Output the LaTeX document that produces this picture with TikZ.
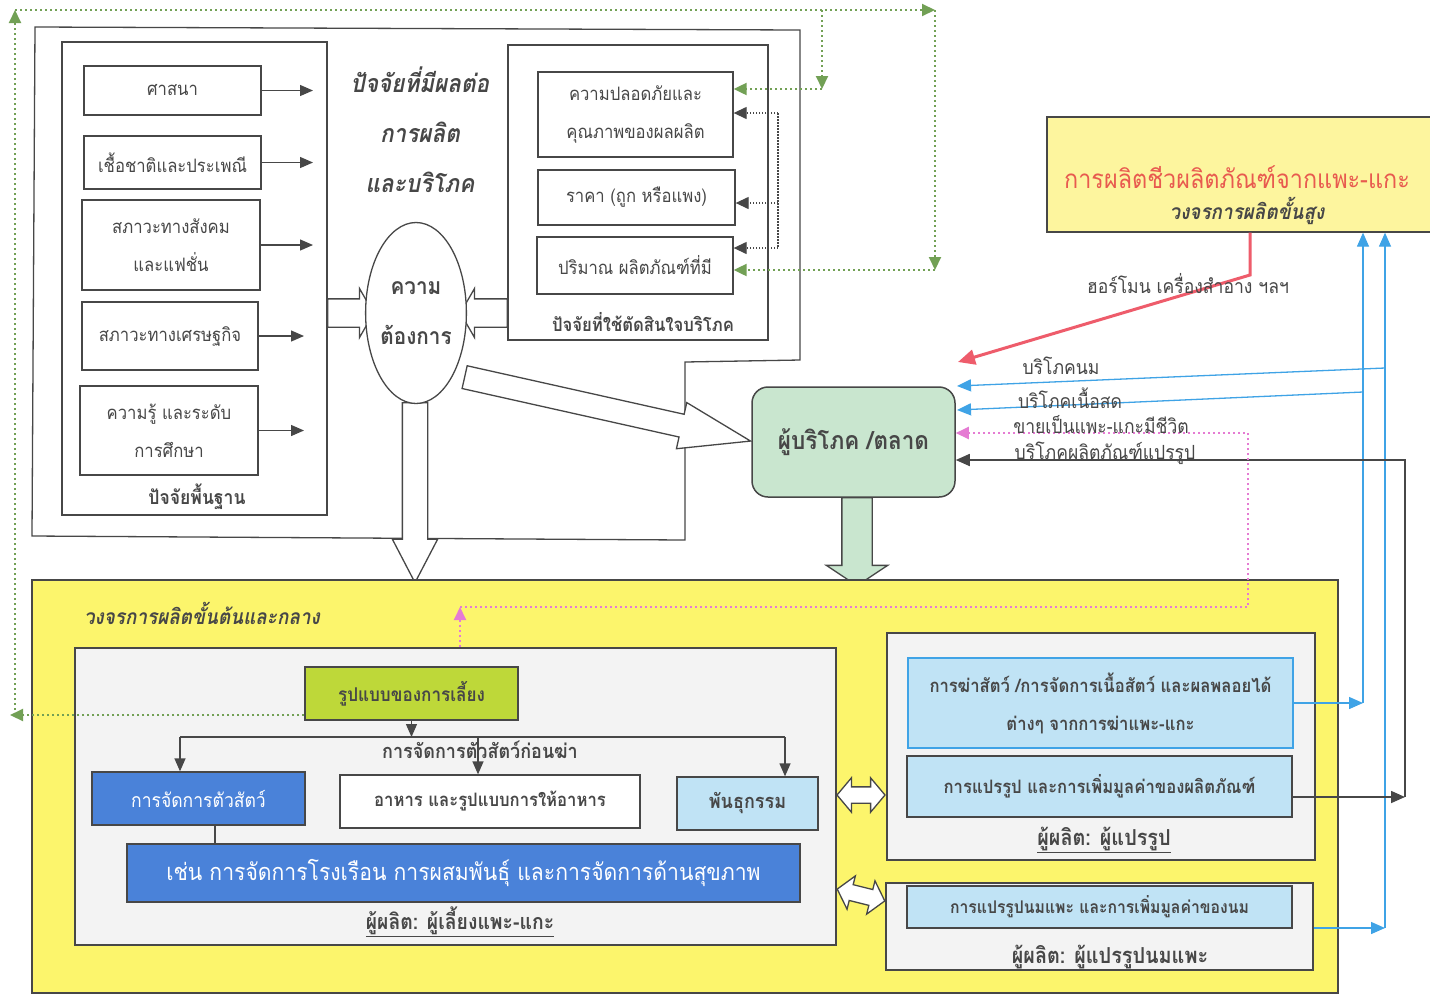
\documentclass[tikz,border=0pt]{standalone}
\usepackage{fontspec}
\setmainfont[Script=Thai,FakeStretch=0.9]{Loma}
\usetikzlibrary{arrows.meta,shapes.geometric,shapes.arrows,calc}
\definecolor{ink}{HTML}{474747}
\definecolor{bgyel}{HTML}{FCF56C}
\definecolor{topyel}{HTML}{FDF59E}
\definecolor{cgreen}{HTML}{C9E6CF}
\definecolor{dblue}{HTML}{4A82D9}
\definecolor{lblue}{HTML}{C0E3F5}
\definecolor{ygreen}{HTML}{BED839}
\definecolor{pinkd}{HTML}{E57BD3}
\definecolor{gdot}{HTML}{72A055}
\definecolor{redl}{HTML}{EE5C6B}
\definecolor{bluel}{HTML}{3FA3E6}
\definecolor{panel}{HTML}{F3F3F3}
\definecolor{redtxt}{HTML}{E85A4F}
\newcommand{\setfs}[2]{\fontsize{#1}{#2}\selectfont}
\begin{document}
\begin{tikzpicture}[x=1pt,y=-1pt,
  every node/.style={text=ink},
  box/.style={draw=ink,line width=1.3pt,inner sep=0pt,align=center,font=\setfs{18.5}{38}},
  lbl/.style={inner sep=1pt,align=center,font=\setfs{19.5}{22}},
  blbl/.style={inner sep=1pt,align=center,font=\setfs{19}{22}\bfseries},
  ttl/.style={inner sep=1pt,align=center,font=\setfs{25}{50}\bfseries\itshape},
  harrow/.style={single arrow,draw=ink,fill=white,line width=1.3pt,inner sep=0pt,anchor=tail},
  darrow/.style={double arrow,draw=ink,fill=white,line width=1.3pt,inner sep=0pt},
  tri/.style={-{Triangle[length=13pt,width=11pt]}},
  conn/.style={draw=ink,line width=1.3pt},
  gdots/.style={draw=gdot,line width=2pt,dash pattern=on 2pt off 3pt,-{Triangle[length=13pt,width=12pt]}},
  kdots/.style={draw=ink,line width=1.3pt,dash pattern=on 1.5pt off 1.5pt},
  bconn/.style={draw=bluel,line width=1.3pt,-{Triangle[length=14pt,width=12pt]}},
  kconn/.style={draw=ink,line width=1.6pt,-{Triangle[length=14pt,width=12pt]}},
  pdots/.style={draw=pinkd,line width=2pt,dash pattern=on 2pt off 3pt},
]
\useasboundingbox (0,0) rectangle (1430,997);
\fill[white] (0,0) rectangle (1430,997);

% ---------- upper frame ----------
\draw[conn] (35,27) -- (800,30) -- (800,360) -- (685,362) -- (685,540) -- (32,536) -- cycle;

\node[box,minimum width=265,minimum height=473] (basic) at (194.5,278.5) {};
\node[blbl,font=\setfs{19.5}{22}\bfseries] (basiclbl) at (197,497) {ปัจจัยพื้นฐาน};
\node[box,minimum width=177,minimum height=49] (rel) at (172.5,90.5) {ศาสนา};
\node[box,minimum width=177,minimum height=53] (race) at (172.5,162.5) {เชื้อชาติและประเพณี};
\node[box,minimum width=178,minimum height=90] (soc) at (171,245) {สภาวะทางสังคม\\และแฟชั่น};
\node[box,minimum width=176,minimum height=68] (econ) at (170,336) {สภาวะทางเศรษฐกิจ};
\node[box,minimum width=178,minimum height=89] (know) at (169,430.5) {ความรู้ และระดับ\\การศึกษา};
\coordinate (fx) at (313,0);
\coordinate (fx2) at (304,0);
\draw[conn,tri] (rel.east) -- (rel.east -| fx);
\draw[conn,tri] (race.east) -- (race.east -| fx);
\draw[conn,tri] (soc.east) -- (soc.east -| fx);
\draw[conn,tri] (econ.east) -- (econ.east -| fx2);
\draw[conn,tri] (know.east) -- (know.east -| fx2);

\node[box,minimum width=260,minimum height=295] (decide) at (638,192.5) {};
\node[blbl,font=\setfs{18.5}{22}\bfseries] (decidelbl) at (643,322) {ปัจจัยที่ใช้ตัดสินใจบริโภค};
\node[box,minimum width=195,minimum height=85] (safe) at (635.5,114.5) {ความปลอดภัยและ\\คุณภาพของผลผลิต};
\node[box,minimum width=197,minimum height=55] (price) at (636.5,197.5) {ราคา (ถูก หรือแพง)};
\node[box,minimum width=196,minimum height=57] (qty) at (635,265.5) {ปริมาณ ผลิตภัณฑ์ที่มี};

\node[ttl] (ttl1) at (420,130) {ปัจจัยที่มีผลต่อ\\การผลิต\\และบริโภค};

\node[harrow,minimum height=46,single arrow head extend=10.5,single arrow tip angle=120] (inL) at (327,313) {\rule{0pt}{27pt}};
\node[harrow,minimum height=47,single arrow head extend=10.5,single arrow tip angle=120,rotate=180] (inR) at (508,313) {\rule{0pt}{27pt}};
\node[harrow,minimum height=180,single arrow head extend=10,single arrow tip angle=55,rotate=-90] (down1) at (415,402) {\rule{0pt}{24pt}};
\node[harrow,minimum height=293,single arrow head extend=12,single arrow tip angle=37,rotate=-12.6] (diag) at (464,377) {\rule{0pt}{22pt}};
\node[draw=ink,line width=1.3pt,ellipse,fill=white,minimum width=92,minimum height=181,inner sep=0pt,align=center,font=\setfs{23}{50}\bfseries] (need) at (416,313) {ความ\\ต้องการ};

% ---------- consumer ----------
\node[draw=ink,line width=1.5pt,rounded corners=16pt,fill=cgreen,minimum width=203,minimum height=110,inner sep=0pt,font=\setfs{25}{28}\bfseries] (cons) at (853.5,442) {ผู้บริโภค /ตลาด};
\node[harrow,fill=cgreen,minimum height=88,single arrow head extend=15.5,single arrow tip angle=113,rotate=-90] (down2) at (857,497) {\rule{0pt}{29pt}};

% ---------- advanced ----------
\node[draw=ink,line width=1.3pt,fill=topyel,minimum width=393,minimum height=115,inner sep=0pt] (adv) at (1243.5,174.5) {};
\node[inner sep=1pt,font=\setfs{26}{28},text=redtxt] (advt) at (1237,177) {การผลิตชีวผลิตภัณฑ์จากแพะ-แกะ};
\node[ttl,font=\setfs{21}{24}\bfseries\itshape] (advs) at (1247,211) {วงจรการผลิตขั้นสูง};

% ---------- lower frame ----------
\node[draw=ink,line width=1.3pt,fill=bgyel,minimum width=1306,minimum height=413,inner sep=0pt] (primary) at (685,786.5) {};
\node[ttl,font=\setfs{21}{24}\bfseries\itshape] (primt) at (202,613) {วงจรการผลิตขั้นต้นและกลาง};
\node[box,fill=panel,minimum width=761,minimum height=297] (farm) at (455.5,796.5) {};
\node[box,fill=ygreen,minimum width=213,minimum height=53,font=\setfs{19}{22}\bfseries] (rais) at (411.5,693.5) {รูปแบบของการเลี้ยง};
\node[box,fill=dblue,text=white,minimum width=213,minimum height=53,font=\setfs{19.5}{22}] (anim) at (198.5,798.5) {การจัดการตัวสัตว์};
\node[box,fill=white,minimum width=300,minimum height=53,font=\setfs{18.5}{22}\bfseries] (food) at (490,801.5) {อาหาร และรูปแบบการให้อาหาร};
\node[box,fill=lblue,minimum width=141,minimum height=53,font=\setfs{20}{22}\bfseries] (gene) at (747.5,803.5) {พันธุกรรม};
\node[box,fill=dblue,text=white,minimum width=673,minimum height=58,font=\setfs{23.5}{26}] (house) at (463.5,873) {เช่น การจัดการโรงเรือน การผสมพันธุ์ และการจัดการด้านสุขภาพ};
\node[blbl,font=\setfs{21.5}{24}\bfseries] (farml) at (460,922) {\underline{ผู้ผลิต: ผู้เลี้ยงแพะ-แกะ}};
\node[blbl,font=\setfs{20}{22}\bfseries] (prel) at (480,750) {การจัดการตัวสัตว์ก่อนฆ่า};

\coordinate (bar) at (0,737);
\coordinate (barL) at (180,737);
\coordinate (barM) at (478,737);
\coordinate (barR) at (785,737);
\coordinate (link) at (215,0);
\draw[conn,tri] (rais.south) -- (rais.south |- bar);
\draw[conn] (barL) -- (barR);
\draw[conn,tri] (barL) -- (barL |- anim.north);
\draw[conn,tri] (barM) -- (barM |- food.north);
\draw[conn,tri] (barR) -- (barR |- gene.north);
\draw[conn] (anim.south -| link) -- (house.north -| link);

\node[box,fill=panel,minimum width=428,minimum height=227] (proc) at (1101,746.5) {};
\node[box,draw=bluel,fill=lblue,minimum width=385,minimum height=90,font=\setfs{18.5}{38}\bfseries] (slau) at (1100.5,703) {การฆ่าสัตว์ /การจัดการเนื้อสัตว์ และผลพลอยได้\\ต่างๆ จากการฆ่าแพะ-แกะ};
\node[box,fill=lblue,minimum width=385,minimum height=61,font=\setfs{18.5}{22}\bfseries] (valu) at (1099.5,786.5) {การแปรรูป และการเพิ่มมูลค่าของผลิตภัณฑ์};
\node[blbl,font=\setfs{22}{24}\bfseries] (procl) at (1104,840) {\underline{ผู้ผลิต: ผู้แปรรูป}};
\node[box,fill=panel,minimum width=427,minimum height=87] (dairy) at (1099.5,926.5) {};
\node[box,fill=lblue,minimum width=385,minimum height=42,font=\setfs{17.5}{20}\bfseries] (milk) at (1099.5,907) {การแปรรูปนมแพะ และการเพิ่มมูลค่าของนม};
\node[blbl,font=\setfs{22}{24}\bfseries] (dairyl) at (1110,958) {\underline{ผู้ผลิต: ผู้แปรรูปนมแพะ}};
\node[darrow,minimum height=48,double arrow head extend=9,double arrow tip angle=100] (dbl1) at (861,795) {\rule{0pt}{15pt}};
\node[darrow,minimum height=49,double arrow head extend=9,double arrow tip angle=100,rotate=-14] (dbl2) at (861,895) {\rule{0pt}{15pt}};

% ---------- right-hand connectors ----------
\coordinate (bx1) at (1363,0);
\coordinate (bx2) at (1385,0);
\coordinate (kx) at (1405,0);
\coordinate (my) at (0,928);
\coordinate (ky) at (0,797);
\draw[bconn] (slau.east) -- (slau.east -| bx1);
\draw[bconn] (slau.east -| bx1) -- (adv.south -| bx1);
\draw[bconn] (dairy.east |- my) -- (bx2 |- my);
\draw[bconn] (bx2 |- my) -- (adv.south -| bx2);
\draw[kconn] (valu.east |- ky) -- (kx |- ky);

\coordinate (nmA) at (1385,368);
\coordinate (nmB) at (957,386);
\coordinate (msA) at (1363,392);
\coordinate (msB) at (957,410);
\coordinate (ly) at (0,433);
\coordinate (py) at (0,607);
\coordinate (px) at (460,0);
\coordinate (pr) at (1248,0);
\coordinate (ty) at (0,460);
\draw[bconn] (nmA) -- (nmB);
\draw[bconn] (msA) -- (msB);
\draw[kconn] (kx |- ky) -- (kx |- ty) -- (cons.east |- ty);
\draw[pdots,-{Triangle[length=13pt,width=12pt]}] (farm.north -| px) -- (px |- py);
\draw[pdots,-{Triangle[length=13pt,width=12pt]}] (px |- py) -- (pr |- py) -- (pr |- ly) -- (cons.east |- ly);

\coordinate (r1) at (1250,275);
\coordinate (r2) at (958,362);
\draw[draw=redl,line width=3pt,-{Triangle[length=17pt,width=15pt]}] (adv.south -| r1) -- (r1) -- (r2);

\node[lbl] (l5) at (1188,284) {ฮอร์โมน เครื่องสำอาง ฯลฯ};
\node[lbl] (l1) at (1061,366) {บริโภคนม};
\node[lbl] (l2) at (1070,398) {บริโภคเนื้อสด};
\node[lbl] (l3) at (1101,425) {ขายเป็นแพะ-แกะมีชีวิต};
\node[lbl] (l4) at (1105,453) {บริโภคผลิตภัณฑ์แปรรูป};

% ---------- green / dark dotted feedback ----------
\coordinate (g0) at (15,715);
\coordinate (gL) at (10,715);
\coordinate (g1) at (15,10);
\coordinate (g2) at (935,10);
\coordinate (g3) at (822,10);
\coordinate (g4) at (822,89);
\coordinate (g5) at (935,270);
\draw[gdots] (rais.west |- g0) -- (gL);
\draw[gdots] (g0) -- (g1);
\draw[gdots] (g1) -- (g2);
\draw[gdots] (g3) -- (g4);
\draw[gdots] (g4) -- (safe.east |- g4);
\draw[gdots] (g2) -- (g5);
\draw[gdots] (g5) -- (qty.east |- g5);

\coordinate (k0) at (778,113);
\coordinate (kp) at (0,203);
\coordinate (kq) at (0,248);
\draw[kdots] (k0) -- (k0 |- kq);
\draw[kdots,-{Triangle[length=13pt,width=12pt]}] (k0) -- (safe.east |- k0);
\draw[kdots,-{Triangle[length=13pt,width=12pt]}] (k0 |- kp) -- (price.east |- kp);
\draw[kdots,-{Triangle[length=13pt,width=12pt]}] (k0 |- kq) -- (qty.east |- kq);
\end{tikzpicture}
\end{document}
